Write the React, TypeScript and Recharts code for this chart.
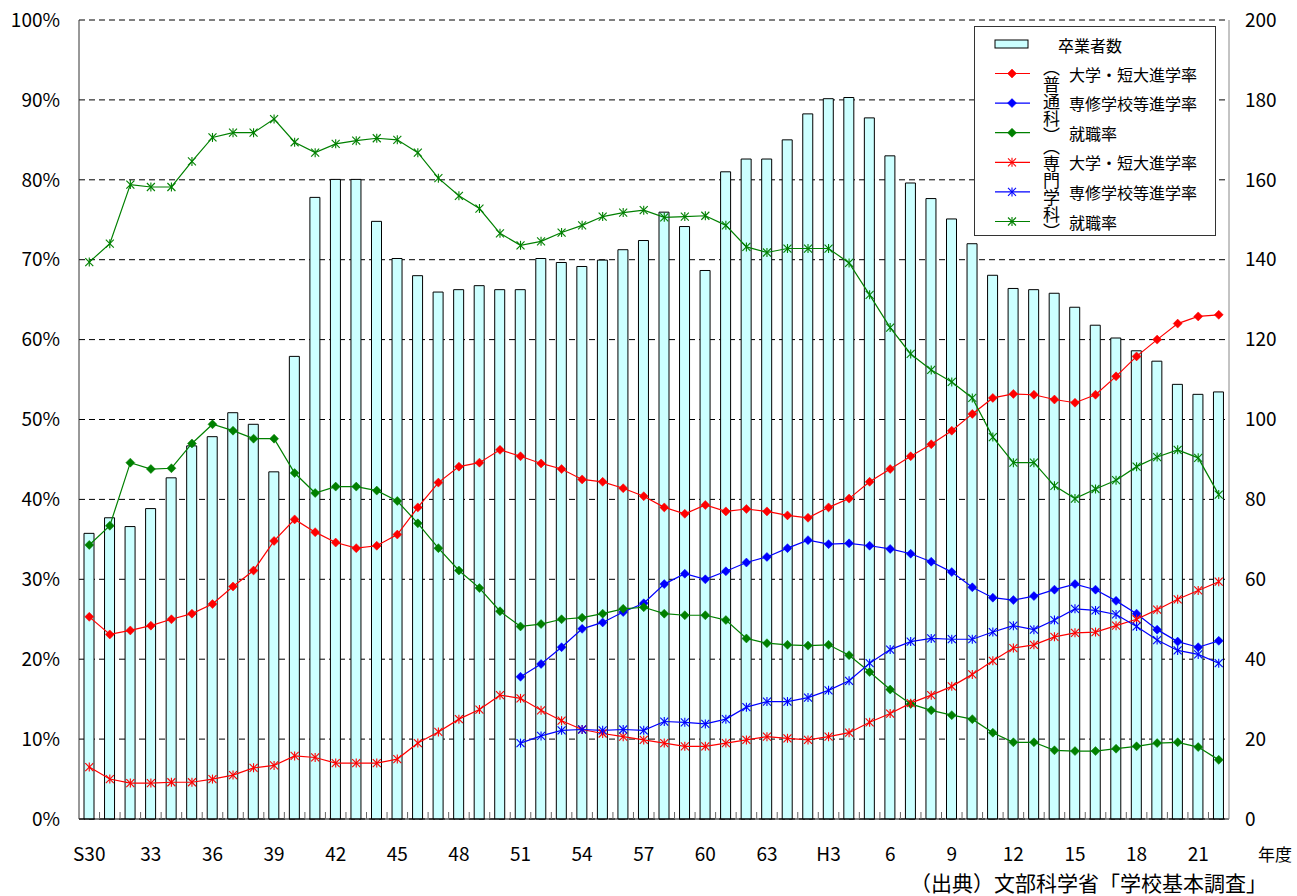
import React from "react";
import { ComposedChart, Bar, Line, XAxis, YAxis, CartesianGrid } from "recharts";

const FONT = '"Noto Sans CJK JP", "Noto Sans", sans-serif';

// S30 (1955) .. H22 (2010)
const years = [
  "S30", "S31", "S32", "S33", "S34", "S35", "S36", "S37", "S38", "S39",
  "S40", "S41", "S42", "S43", "S44", "S45", "S46", "S47", "S48", "S49",
  "S50", "S51", "S52", "S53", "S54", "S55", "S56", "S57", "S58", "S59",
  "S60", "S61", "S62", "S63", "H1", "H2", "H3", "H4", "H5", "H6",
  "H7", "H8", "H9", "H10", "H11", "H12", "H13", "H14", "H15", "H16",
  "H17", "H18", "H19", "H20", "H21", "H22",
];

// labels shown under every 3rd year
const xTickLabels = [
  "S30", "33", "36", "39", "42", "45", "48", "51", "54", "57",
  "60", "63", "H3", "6", "9", "12", "15", "18", "21",
];

const pctTicks = [0, 10, 20, 30, 40, 50, 60, 70, 80, 90, 100];
const countTicks = [0, 20, 40, 60, 80, 100, 120, 140, 160, 180, 200];

// 卒業者数 (right axis)
const graduates = [
  71.5, 75.4, 73.2, 77.7, 85.4, 93.4, 95.7, 101.7, 98.8, 86.9,
  115.8, 155.6, 160.1, 160.1, 149.6, 140.3, 136.0, 131.9, 132.5, 133.5,
  132.5, 132.5, 140.3, 139.3, 138.3, 139.9, 142.5, 144.8, 151.9, 148.3,
  137.3, 162.0, 165.2, 165.2, 170.0, 176.5, 180.3, 180.6, 175.5, 166.0,
  159.2, 155.3, 150.2, 144.0, 136.1, 132.8, 132.5, 131.6, 128.1, 123.6,
  120.4, 117.2, 114.6, 108.8, 106.3, 106.9,
];

// 普通科
const genUniv = [
  25.3, 23.1, 23.6, 24.2, 25.0, 25.7, 26.9, 29.1, 31.1, 34.8,
  37.5, 35.9, 34.6, 33.9, 34.2, 35.6, 39.0, 42.1, 44.1, 44.6,
  46.2, 45.4, 44.5, 43.8, 42.5, 42.2, 41.4, 40.4, 39.0, 38.2,
  39.3, 38.5, 38.8, 38.5, 38.0, 37.7, 39.0, 40.1, 42.2, 43.8,
  45.4, 46.9, 48.6, 50.7, 52.7, 53.2, 53.1, 52.5, 52.1, 53.1,
  55.4, 57.9, 60.0, 62.0, 62.9, 63.1,
];
const genSenshu = [
  ...Array(21).fill(null),
  17.8, 19.4, 21.5, 23.8, 24.6, 25.9, 27.0, 29.4, 30.7,
  30.0, 31.0, 32.1, 32.8, 33.9, 34.9, 34.4, 34.5, 34.2, 33.8,
  33.2, 32.2, 30.9, 29.0, 27.7, 27.4, 27.9, 28.7, 29.4, 28.7,
  27.3, 25.7, 23.7, 22.2, 21.5, 22.3,
];
const genJob = [
  34.3, 36.7, 44.6, 43.8, 43.9, 47.0, 49.4, 48.6, 47.6, 47.6,
  43.3, 40.8, 41.6, 41.6, 41.1, 39.8, 37.0, 33.9, 31.1, 28.9,
  26.0, 24.1, 24.4, 25.0, 25.2, 25.7, 26.3, 26.5, 25.7, 25.5,
  25.5, 24.9, 22.6, 22.0, 21.8, 21.7, 21.8, 20.5, 18.4, 16.2,
  14.4, 13.6, 13.0, 12.5, 10.8, 9.6, 9.6, 8.6, 8.5, 8.5,
  8.8, 9.1, 9.5, 9.6, 9.0, 7.4,
];

// 専門学科
const vocUniv = [
  6.5, 5.0, 4.5, 4.5, 4.6, 4.6, 5.0, 5.5, 6.4, 6.7,
  7.9, 7.7, 7.0, 7.0, 7.0, 7.5, 9.5, 10.9, 12.5, 13.7,
  15.5, 15.1, 13.6, 12.3, 11.2, 10.7, 10.3, 9.9, 9.5, 9.1,
  9.1, 9.5, 9.9, 10.3, 10.1, 9.9, 10.3, 10.8, 12.1, 13.2,
  14.5, 15.5, 16.6, 18.1, 19.8, 21.4, 21.8, 22.8, 23.3, 23.4,
  24.2, 25.0, 26.2, 27.5, 28.6, 29.7,
];
const vocSenshu = [
  ...Array(21).fill(null),
  9.5, 10.4, 11.1, 11.2, 11.1, 11.2, 11.1, 12.2, 12.1,
  11.9, 12.5, 14.0, 14.7, 14.7, 15.2, 16.1, 17.3, 19.5, 21.2,
  22.2, 22.6, 22.5, 22.5, 23.4, 24.2, 23.7, 24.9, 26.3, 26.1,
  25.6, 24.1, 22.4, 21.1, 20.6, 19.5,
];
const vocJob = [
  69.7, 72.0, 79.4, 79.1, 79.1, 82.3, 85.3, 85.9, 85.9, 87.6,
  84.7, 83.4, 84.5, 84.9, 85.2, 85.0, 83.4, 80.2, 78.0, 76.4,
  73.3, 71.8, 72.3, 73.4, 74.3, 75.4, 75.9, 76.2, 75.3, 75.4,
  75.5, 74.3, 71.6, 70.9, 71.4, 71.4, 71.4, 69.6, 65.6, 61.5,
  58.2, 56.2, 54.7, 52.7, 47.8, 44.6, 44.6, 41.7, 40.1, 41.3,
  42.4, 44.1, 45.3, 46.2, 45.2, 40.6,
];

const data = years.map((year, i) => ({
  year,
  graduates: graduates[i],
  genUniv: genUniv[i],
  genSenshu: genSenshu[i],
  genJob: genJob[i],
  vocUniv: vocUniv[i],
  vocSenshu: vocSenshu[i],
  vocJob: vocJob[i],
}));

const RED = "#FF0000";
const BLUE = "#0000FF";
const GREEN = "#008000";

// plot area 79..1229 wide, one band per year
const PLOT_LEFT = 79;
const PLOT_RIGHT = 1229;
const BAND = (PLOT_RIGHT - PLOT_LEFT) / years.length;

const Diamond = ({ cx, cy, color, r = 4.5 }: any) => (
  <polygon
    points={`${cx},${cy - r} ${cx + r},${cy} ${cx},${cy + r} ${cx - r},${cy}`}
    fill={color}
    stroke={color}
    strokeWidth={0.5}
  />
);

const Asterisk = ({ cx, cy, color, r = 4 }: any) => (
  <g stroke={color} strokeWidth={1.1}>
    <line x1={cx - r} y1={cy - r} x2={cx + r} y2={cy + r} />
    <line x1={cx - r} y1={cy + r} x2={cx + r} y2={cy - r} />
    <line x1={cx} y1={cy - r - 0.5} x2={cx} y2={cy + r + 0.5} />
  </g>
);

const diamondDot = (color: string) => (props: any) => {
  const { cx, cy, value, index } = props;
  if (value == null || cy == null) return <g key={index} />;
  return <Diamond key={index} cx={cx} cy={cy} color={color} />;
};

const asteriskDot = (color: string) => (props: any) => {
  const { cx, cy, value, index } = props;
  if (value == null || cy == null) return <g key={index} />;
  return <Asterisk key={index} cx={cx} cy={cy} color={color} />;
};

const XTick = (props: any) => {
  const { x, y, index } = props;
  const label = index % 3 === 0 ? xTickLabels[index / 3] : null;
  return (
    <g>
      {index > 0 && (
        <line x1={x - BAND / 2} x2={x - BAND / 2} y1={y} y2={y - 7} stroke="#666" />
      )}
      {label && (
        <text x={x} y={y + 35} dy="0.35em" textAnchor="middle" fontSize={19} fill="#000" fontFamily={FONT}>
          {label}
        </text>
      )}
    </g>
  );
};

const legendRows = [
  { label: "大学・短大進学率", color: RED, mark: "diamond" },
  { label: "専修学校等進学率", color: BLUE, mark: "diamond" },
  { label: "就職率", color: GREEN, mark: "diamond" },
  { label: "大学・短大進学率", color: RED, mark: "asterisk" },
  { label: "専修学校等進学率", color: BLUE, mark: "asterisk" },
  { label: "就職率", color: GREEN, mark: "asterisk" },
];

const groupLabels = [
  { text: "（普通科）", top: 32 },
  { text: "（専門学科）", top: 110.5 },
];

function ChartLegend() {
  const rowTop = 46.5;
  const rowStep = 29.6;
  return (
    <div
      style={{
        position: "absolute",
        left: 974,
        top: 26,
        width: 240,
        height: 208,
        border: "1px solid #333",
        background: "#fff",
        fontSize: 16,
        lineHeight: "1",
        color: "#000",
      }}
    >
      <svg width={240} height={208} style={{ position: "absolute", left: 0, top: 0 }}>
        <rect x={20} y={13} width={33} height={8} fill="#CCFFFF" stroke="#000" />
        {legendRows.map((row, i) => {
          const y = rowTop + i * rowStep;
          return (
            <g key={i}>
              <line x1={20} x2={55} y1={y} y2={y} stroke={row.color} strokeWidth={1.2} />
              {row.mark === "diamond" ? (
                <Diamond cx={37} cy={y} color={row.color} />
              ) : (
                <Asterisk cx={37} cy={y} color={row.color} />
              )}
            </g>
          );
        })}
      </svg>
      <div style={{ position: "absolute", left: 83, top: 10 }}>卒業者数</div>
      {legendRows.map((row, i) => (
        <div key={i} style={{ position: "absolute", left: 94, top: rowTop + i * rowStep - 8 }}>
          {row.label}
        </div>
      ))}
      {groupLabels.map((g) => (
        <div
          key={g.text}
          style={{
            position: "absolute",
            left: 68,
            top: g.top,
            writingMode: "vertical-rl",
            fontSize: 17,
            lineHeight: "1",
          }}
        >
          {g.text}
        </div>
      ))}
    </div>
  );
}

export default function App() {
  return (
    <div
      style={{
        position: "absolute",
        left: 0,
        top: 0,
        width: 1297,
        height: 896,
        background: "#fff",
        fontFamily: FONT,
      }}
    >
      <ComposedChart
        width={1297}
        height={896}
        data={data}
        margin={{ top: 20, right: 0, bottom: 37, left: 0 }}
      >
        <CartesianGrid
          yAxisId="pct"
          vertical={false}
          stroke="#000"
          strokeDasharray="6 4"
        />
        <XAxis
          dataKey="year"
          interval={0}
          height={40}
          tickLine={false}
          tickSize={0}
          tickMargin={0}
          axisLine={{ stroke: "#000" }}
          tick={(p: any) => <XTick {...p} />}
        />
        <YAxis
          yAxisId="pct"
          width={79}
          domain={[0, 100]}
          ticks={pctTicks}
          tickFormatter={(v) => `${v}%`}
          tickLine={false}
          tickSize={0}
          tickMargin={19}
          axisLine={{ stroke: "#333" }}
          tick={{ fontSize: 19, fill: "#000", fontFamily: FONT }}
        />
        <YAxis
          yAxisId="cnt"
          orientation="right"
          width={68}
          domain={[0, 200]}
          ticks={countTicks}
          tickLine={false}
          tickSize={0}
          tickMargin={16}
          axisLine={{ stroke: "#888" }}
          tick={{ fontSize: 19, fill: "#000", fontFamily: FONT, textAnchor: "start" }}
        />
        <Bar
          yAxisId="cnt"
          dataKey="graduates"
          name="卒業者数"
          fill="#CCFFFF"
          stroke="#000"
          strokeWidth={1}
          barSize={10}
          isAnimationActive={false}
        />
        <Line yAxisId="pct" type="linear" dataKey="genUniv" stroke={RED} strokeWidth={1.2} dot={diamondDot(RED)} isAnimationActive={false} />
        <Line yAxisId="pct" type="linear" dataKey="genSenshu" stroke={BLUE} strokeWidth={1.2} dot={diamondDot(BLUE)} isAnimationActive={false} />
        <Line yAxisId="pct" type="linear" dataKey="genJob" stroke={GREEN} strokeWidth={1.2} dot={diamondDot(GREEN)} isAnimationActive={false} />
        <Line yAxisId="pct" type="linear" dataKey="vocUniv" stroke={RED} strokeWidth={1.2} dot={asteriskDot(RED)} isAnimationActive={false} />
        <Line yAxisId="pct" type="linear" dataKey="vocSenshu" stroke={BLUE} strokeWidth={1.2} dot={asteriskDot(BLUE)} isAnimationActive={false} />
        <Line yAxisId="pct" type="linear" dataKey="vocJob" stroke={GREEN} strokeWidth={1.2} dot={asteriskDot(GREEN)} isAnimationActive={false} />
      </ComposedChart>
      <ChartLegend />
      <div style={{ position: "absolute", left: 1258, top: 845, fontSize: 17, lineHeight: "1" }}>年度</div>
      <div style={{ position: "absolute", left: 910, top: 872, fontSize: 21, lineHeight: "1", whiteSpace: "nowrap" }}>
        （出典）文部科学省「学校基本調査」
      </div>
    </div>
  );
}
